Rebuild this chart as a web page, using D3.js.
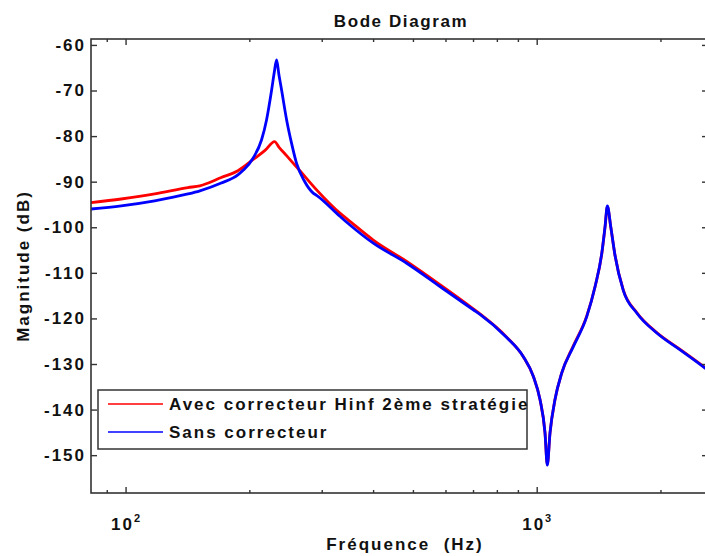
<!DOCTYPE html>
<html>
<head>
<meta charset="utf-8">
<script src="https://cdn.jsdelivr.net/npm/d3@7"></script>
<style>
  body { margin: 0; background: #fff; }
  svg text { font-family: "Liberation Sans", Arial, sans-serif; font-weight: bold; fill: #111; letter-spacing: 2px; }
</style>
</head>
<body>
<div id="chart"></div>
<script>
// data (Hz, dB)
var freqSans = [82.4, 97.6, 117.7, 141.8, 151.6, 170.9, 187.6, 193.2, 204.4, 214.2, 220.3, 226.6, 230, 233.0, 236,
  239.6, 246.4, 253.4, 260.6, 272, 286.0, 291.5, 332.2, 351.4, 400.4, 482.8, 581.8, 701.1, 727.8, 845.3, 927.8,
  981.1, 1018.6, 1047.6, 1061.2, 1077.4, 1107.9, 1150.2, 1227.6, 1323.3, 1386.8, 1439.8, 1466.5, 1485.5, 1513.6,
  1550.7, 1624.5, 1751.2, 1958.8, 2232.6, 2567.1, 2610];
var magSans = [-96.0, -95.3, -94.2, -92.7, -92.0, -90.3, -88.5, -87.5, -84.8, -80.8, -76.4, -69.9, -66.0, -63.3, -66.5,
  -69.9, -76.4, -81.6, -86.0, -89.8, -92.5, -93.0, -97.6, -99.5, -103.5, -107.9, -113.0, -118.1, -119.1, -124.2, -128.4,
  -132.7, -137.8, -145.1, -152.2, -145.1, -137.8, -132.0, -126.2, -119.6, -113.0, -105.7, -99.8, -95.3, -99.8,
  -106.2, -113.9, -118.8, -123.2, -126.9, -130.9, -131.4];

var freqAvec = [82.4, 97.6, 117.7, 141.8, 151.6, 170.9, 187.6, 206.0, 218, 230.4, 236, 246.4, 265.5, 291.5, 332.2,
  351.4, 400.4, 482.8, 581.8, 701.1, 727.8, 845.3, 927.8, 981.1, 1018.6, 1047.6, 1061.2, 1077.4, 1107.9, 1150.2,
  1227.6, 1323.3, 1386.8, 1439.8, 1466.5, 1485.5, 1513.6, 1550.7, 1624.5, 1751.2, 1958.8, 2232.6, 2567.1, 2610];
var magAvec = [-94.6, -93.8, -92.7, -91.3, -90.9, -89.1, -87.6, -84.9, -83.2, -81.2, -82.4, -84.3, -87.6, -91.8, -96.9,
  -98.7, -102.8, -107.5, -112.6, -117.9, -119.0, -124.1, -128.4, -132.7, -137.8, -145.1, -152.0, -145.1, -137.8, -132.0,
  -126.0, -119.5, -113.0, -105.8, -99.9, -95.5, -99.9, -106.2, -113.8, -118.7, -123.1, -126.8, -130.8, -131.3];

var yTicks = [-150, -140, -130, -120, -110, -100, -90, -80, -70, -60];
var xMajor = [100, 1000];
var xMinor = [90, 200, 300, 400, 500, 600, 700, 800, 900, 2000];
var seriesNames = ["Avec correcteur Hinf 2ème stratégie", "Sans correcteur"];
var seriesColors = ["#ff0000", "#0000ff"];

var W = 705, H = 556;
var pL = 91, pT = 39, pR = 708, pB = 493;

var svg = d3.select("#chart").append("svg").attr("width", W).attr("height", H);

var x = d3.scaleLog().domain([82.4, 2610]).range([pL, pR]);
var y = d3.scaleLinear().domain([-158.3, -58.7]).range([pB, pT]);

svg.append("clipPath").attr("id", "clip")
  .append("rect").attr("x", pL).attr("y", pT).attr("width", pR - pL).attr("height", pB - pT);

// curves
var line = d3.line()
  .x(function (d) { return x(d[0]); })
  .y(function (d) { return y(d[1]); })
  .curve(d3.curveMonotoneX);

var series = [d3.zip(freqAvec, magAvec), d3.zip(freqSans, magSans)];
svg.append("g").attr("clip-path", "url(#clip)")
  .selectAll("path").data(series).join("path")
  .attr("d", line)
  .attr("fill", "none")
  .attr("stroke", function (d, i) { return seriesColors[i]; })
  .attr("stroke-width", 2.8);

// frame
svg.append("rect").attr("x", pL).attr("y", pT).attr("width", pR - pL).attr("height", pB - pT)
  .attr("fill", "none").attr("stroke", "#333").attr("stroke-width", 1.6);

// axes (ticks inside)
var yAxisG = svg.append("g").attr("transform", "translate(" + pL + ",0)")
  .call(d3.axisLeft(y).tickValues(yTicks).tickSizeInner(-6).tickSizeOuter(0).tickPadding(5)
    .tickFormat(function (d) { return String(d); }));
yAxisG.selectAll("text").style("font-size", "17px").attr("fill", "#111");

svg.append("g").attr("transform", "translate(" + pR + ",0)")
  .call(d3.axisRight(y).tickValues(yTicks).tickSizeInner(-6).tickSizeOuter(0).tickFormat(""));

function xTicks(axisFn, ty, vals, len) {
  svg.append("g").attr("transform", "translate(0," + ty + ")")
    .call(axisFn(x).tickValues(vals).tickSizeInner(-len).tickSizeOuter(0).tickFormat(""));
}
xTicks(d3.axisBottom, pB, xMajor, 6);
xTicks(d3.axisBottom, pB, xMinor, 3);
xTicks(d3.axisTop, pT, xMajor, 6);
xTicks(d3.axisTop, pT, xMinor, 3);

svg.selectAll(".domain").remove();
svg.selectAll(".tick line").attr("stroke", "#333").attr("stroke-width", 1.4);

// x tick labels 10^n
var xl = svg.append("g").selectAll("text").data(xMajor).join("text")
  .attr("x", function (d) { return x(d); })
  .attr("y", 530)
  .attr("text-anchor", "middle")
  .style("font-size", "17px");
xl.append("tspan").text("10");
xl.append("tspan").attr("dy", -8).style("font-size", "11px").style("letter-spacing", "0px")
  .text(function (d) { return Math.round(Math.log10(d)); });

// titles
svg.append("text").attr("x", 401).attr("y", 27).attr("text-anchor", "middle")
  .style("font-size", "17px").style("letter-spacing", "1.6px").text("Bode Diagram");
svg.append("text").attr("x", 405).attr("y", 550).attr("text-anchor", "middle")
  .style("font-size", "17px").style("white-space", "pre").text("Fréquence  (Hz)");
svg.append("text").attr("transform", "translate(29,266) rotate(-90)").attr("text-anchor", "middle")
  .style("font-size", "17px").text("Magnitude (dB)");

// legend
var lg = svg.append("g");
lg.append("rect").attr("x", 98).attr("y", 390).attr("width", 429).attr("height", 59)
  .attr("fill", "#fff").attr("stroke", "#333").attr("stroke-width", 1.5);
var items = lg.selectAll("g.item").data(seriesNames).join("g").attr("class", "item")
  .attr("transform", function (d, i) { return "translate(0," + (404 + i * 28) + ")"; });
items.append("line").attr("x1", 108).attr("x2", 163)
  .attr("stroke", function (d, i) { return seriesColors[i]; }).attr("stroke-width", 1.5);
items.append("text").attr("x", 169).attr("y", 6).style("font-size", "17px").text(function (d) { return d; });
</script>
</body>
</html>
